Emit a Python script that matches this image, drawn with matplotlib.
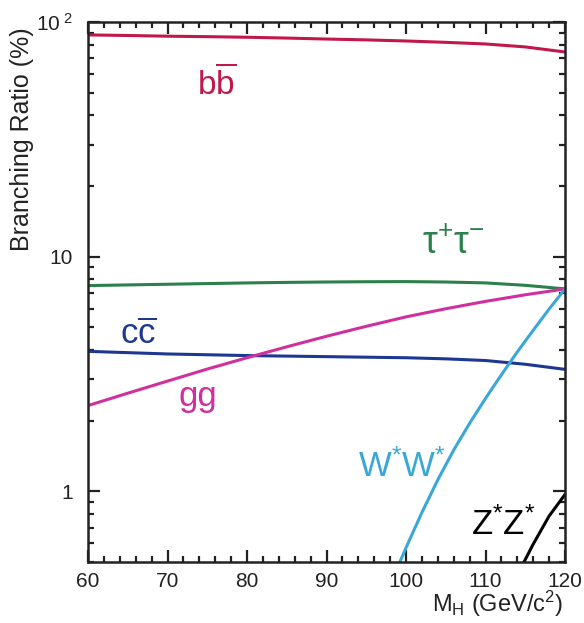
import matplotlib
matplotlib.use("Agg")
import matplotlib.pyplot as plt
from matplotlib.ticker import FixedLocator, FixedFormatter, MultipleLocator, LogLocator, NullFormatter

plt.rcParams['font.family'] = ['Liberation Sans', 'DejaVu Sans']
plt.rcParams['mathtext.fontset'] = 'custom'
plt.rcParams['mathtext.rm'] = 'Liberation Sans'
plt.rcParams['mathtext.it'] = 'Liberation Sans:italic'
plt.rcParams['mathtext.bf'] = 'Liberation Sans:bold'

# Higgs mass (GeV/c^2) and branching ratios (%) per decay channel
mass = [60, 65, 70, 75, 80, 85, 90, 95, 100, 105, 110, 115, 120]
br_bb = [88.1, 87.6, 87.0, 86.6, 86.1, 85.4, 84.6, 83.9, 83.0, 81.9, 80.6, 78.3, 74.5]
br_tautau = [7.53, 7.58, 7.63, 7.68, 7.73, 7.77, 7.80, 7.82, 7.83, 7.80, 7.73, 7.55, 7.29]
br_cc = [3.95, 3.90, 3.85, 3.82, 3.79, 3.77, 3.75, 3.73, 3.71, 3.67, 3.61, 3.48, 3.31]
br_gg = [2.32, 2.62, 2.95, 3.32, 3.71, 4.13, 4.58, 5.05, 5.54, 6.00, 6.45, 6.88, 7.29]

mass_ww = [99, 100, 102, 104, 106, 108, 110, 112, 114, 116, 118, 120]
br_ww = [0.48, 0.575, 0.813, 1.12, 1.50, 1.95, 2.49, 3.14, 3.93, 4.86, 5.98, 7.29]

mass_zz = [114, 116, 118, 120]
br_zz = [0.44, 0.596, 0.785, 0.97]

y_ticks = [1, 10, 100]
y_tick_labels = ['1', '10', r'$10^{\ 2}$']
x_ticks = [60, 70, 80, 90, 100, 110, 120]

fig = plt.figure(figsize=(5.84, 6.23), dpi=100)
ax = fig.add_axes([0.1507, 0.0979, 0.8168, 0.8668])

lw = 2.2
c_bb, c_tau, c_cc, c_gg, c_ww = '#c2174b', '#2b804b', '#1e3892', '#d0309d', '#39a8d8'
ax.plot(mass, br_bb, color=c_bb, lw=lw)
ax.plot(mass, br_tautau, color=c_tau, lw=lw)
ax.plot(mass, br_cc, color=c_cc, lw=lw)
ax.plot(mass, br_gg, color=c_gg, lw=lw)
ax.plot(mass_ww, br_ww, color=c_ww, lw=lw)
ax.plot(mass_zz, br_zz, color='black', lw=lw)

ax.set_yscale('log')
ax.set_xlim(60, 120)
ax.set_ylim(0.5, 100)

ax.yaxis.set_major_locator(FixedLocator(y_ticks))
ax.yaxis.set_major_formatter(FixedFormatter(y_tick_labels))
ax.yaxis.set_minor_locator(LogLocator(base=10, subs=range(2, 10)))
ax.yaxis.set_minor_formatter(NullFormatter())
ax.xaxis.set_major_locator(FixedLocator(x_ticks))
ax.xaxis.set_minor_locator(MultipleLocator(2))

ax.tick_params(which='both', direction='in', top=True, right=True,
               width=1.6, labelsize=15, colors='#222222')
ax.tick_params(which='major', length=8.5)
ax.tick_params(which='minor', length=4.5)
ax.tick_params(axis='y', which='major', pad=11)
ax.tick_params(axis='x', which='major', pad=7)
for s in ax.spines.values():
    s.set_linewidth(1.8)
    s.set_color('#222222')

# curve labels
fs = 25
ax.text(76.2, 54.5, r'$\mathrm{b\overline{b}}$', color=c_bb, fontsize=24,
        ha='center', va='center')
ax.text(106.0, 11.36, r'$\mathrm{\tau^{+}\tau^{-}}$', color=c_tau, fontsize=27,
        ha='center', va='center')
ax.text(66.3, 4.66, r'$\mathrm{c\overline{c}}$', color=c_cc, fontsize=fs,
        ha='center', va='center')
ax.text(73.8, 2.54, 'gg', color=c_gg, fontsize=fs,
        ha='center', va='center')
ax.text(99.5, 1.27, r'$\mathrm{W^{*}W^{*}}$', color=c_ww, fontsize=fs,
        ha='center', va='center')
ax.text(112.2, 0.724, r'$\mathrm{Z^{*}Z^{*}}$', color='black', fontsize=fs,
        ha='center', va='center')

fig.text(0.038, 1 - 139 / 623, 'Branching Ratio (%)', rotation=90, fontsize=18,
         ha='center', va='center', color='#222222')
fig.text(498 / 584, 1 - 604 / 623, r'$\mathrm{M_H}$ (GeV/c$^{2}$)', fontsize=17,
         ha='center', va='center', color='#222222')

fig.savefig('out.png', dpi=100)
